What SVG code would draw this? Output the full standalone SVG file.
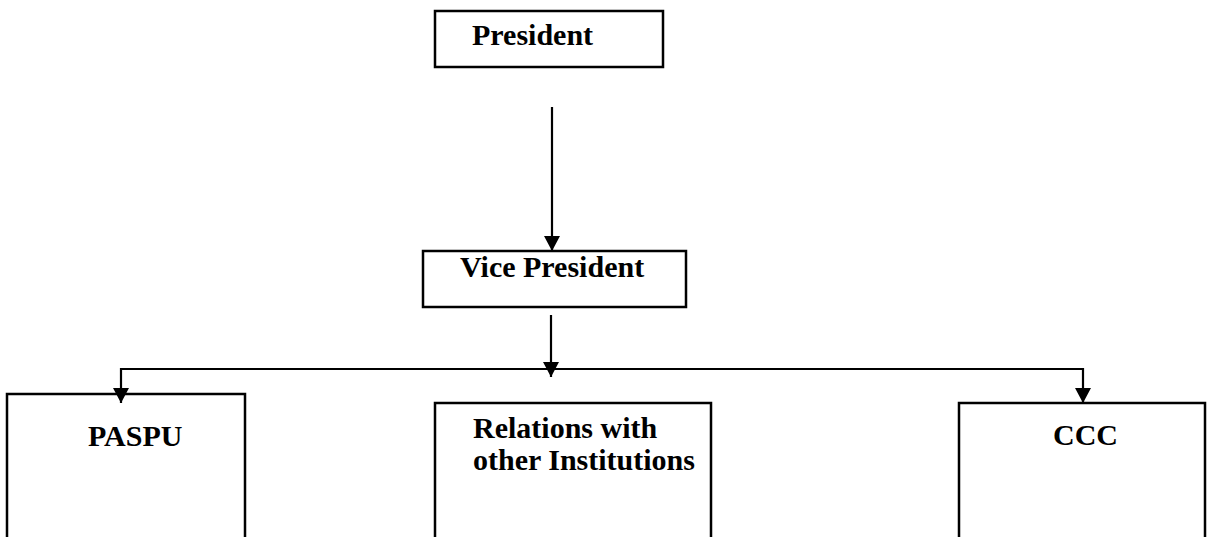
<svg xmlns="http://www.w3.org/2000/svg" width="1207" height="537" viewBox="0 0 1207 537">
<style>
.box{fill:#fff;stroke:#000;stroke-width:2.5}
.lbl{font-family:"Liberation Serif","Times New Roman",serif;font-weight:bold;font-size:30px;fill:#000}
.con{fill:none;stroke:#000;stroke-width:2.2}
</style>
<defs>
<marker id="arr" markerUnits="userSpaceOnUse" markerWidth="17" markerHeight="17" refX="15" refY="8" orient="auto">
<path d="M0,0 L15,8 L0,16 z" fill="#000"/>
</marker>
</defs>
<rect width="1207" height="537" fill="#fff"/>
<g id="president">
<rect class="box" x="435" y="11" width="228" height="56"/>
<text class="lbl" x="472" y="45">President</text>
</g>
<g id="vice-president">
<rect class="box" x="423" y="251" width="263" height="56"/>
<text class="lbl" x="460" y="277">Vice President</text>
</g>
<g id="paspu">
<rect class="box" x="7" y="394" width="238" height="170"/>
<text class="lbl" x="88" y="446">PASPU</text>
</g>
<g id="relations">
<rect class="box" x="435" y="403" width="276" height="170"/>
<text class="lbl" x="473" y="438">Relations with</text>
<text class="lbl" x="473" y="470">other Institutions</text>
</g>
<g id="ccc">
<rect class="box" x="959" y="403" width="246" height="170"/>
<text class="lbl" x="1053" y="445">CCC</text>
</g>
<g id="connectors">
<path class="con" d="M552,107 V251" marker-end="url(#arr)"/>
<path class="con" d="M551,315 V377" marker-end="url(#arr)"/>
<path class="con" d="M552,369 H121 V403" marker-end="url(#arr)"/>
<path class="con" d="M552,369 H1083 V403" marker-end="url(#arr)"/>
</g>
</svg>
